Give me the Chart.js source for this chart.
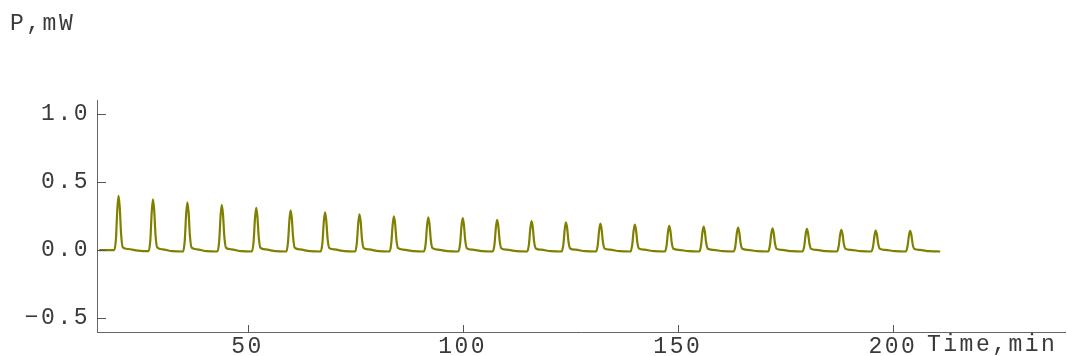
<!DOCTYPE html>
<html>
<head>
<meta charset="utf-8">
<script src="https://cdn.jsdelivr.net/npm/chart.js@4"></script>
<style>
  html, body { margin: 0; padding: 0; background: #fff; }
  #wrap { width: 1067px; height: 356px; }
</style>
</head>
<body>
<div id="wrap"><canvas id="powerChart"></canvas></div>
<script>
const timeMin = [
    15.5,
    19, 19.4, 19.72, 20, 20.28, 20.6, 21, 22.2, 24.5,
    27, 27.4, 27.72, 28, 28.28, 28.6, 29, 30.2, 32.5,
    35, 35.4, 35.72, 36, 36.28, 36.6, 37, 38.2, 40.5,
    43, 43.4, 43.72, 44, 44.28, 44.6, 45, 46.2, 48.5,
    51, 51.4, 51.72, 52, 52.28, 52.6, 53, 54.2, 56.5,
    59, 59.4, 59.72, 60, 60.28, 60.6, 61, 62.2, 64.5,
    67, 67.4, 67.72, 68, 68.28, 68.6, 69, 70.2, 72.5,
    75, 75.4, 75.72, 76, 76.28, 76.6, 77, 78.2, 80.5,
    83, 83.4, 83.72, 84, 84.28, 84.6, 85, 86.2, 88.5,
    91, 91.4, 91.72, 92, 92.28, 92.6, 93, 94.2, 96.5,
    99, 99.4, 99.72, 100, 100.28, 100.6, 101, 102.2, 104.5,
    107, 107.4, 107.72, 108, 108.28, 108.6, 109, 110.2, 112.5,
    115, 115.4, 115.72, 116, 116.28, 116.6, 117, 118.2, 120.5,
    123, 123.4, 123.72, 124, 124.28, 124.6, 125, 126.2, 128.5,
    131, 131.4, 131.72, 132, 132.28, 132.6, 133, 134.2, 136.5,
    139, 139.4, 139.72, 140, 140.28, 140.6, 141, 142.2, 144.5,
    147, 147.4, 147.72, 148, 148.28, 148.6, 149, 150.2, 152.5,
    155, 155.4, 155.72, 156, 156.28, 156.6, 157, 158.2, 160.5,
    163, 163.4, 163.72, 164, 164.28, 164.6, 165, 166.2, 168.5,
    171, 171.4, 171.72, 172, 172.28, 172.6, 173, 174.2, 176.5,
    179, 179.4, 179.72, 180, 180.28, 180.6, 181, 182.2, 184.5,
    187, 187.4, 187.72, 188, 188.28, 188.6, 189, 190.2, 192.5,
    195, 195.4, 195.72, 196, 196.28, 196.6, 197, 198.2, 200.5,
    203, 203.4, 203.72, 204, 204.28, 204.6, 205, 206.2, 208.5,
    211
];
const powerMw = [
    0.000,
    0.000, 0.080, 0.299, 0.398, 0.318, 0.119, 0.020, 0.008, -0.004,
    -0.008, 0.074, 0.279, 0.372, 0.298, 0.112, 0.019, 0.006, -0.008,
    -0.010, 0.070, 0.263, 0.350, 0.280, 0.105, 0.018, 0.006, -0.008,
    -0.010, 0.066, 0.248, 0.331, 0.265, 0.099, 0.017, 0.006, -0.008,
    -0.010, 0.062, 0.232, 0.309, 0.247, 0.093, 0.016, 0.005, -0.008,
    -0.010, 0.058, 0.219, 0.292, 0.234, 0.088, 0.016, 0.005, -0.008,
    -0.010, 0.055, 0.208, 0.277, 0.222, 0.083, 0.015, 0.005, -0.008,
    -0.010, 0.053, 0.197, 0.263, 0.210, 0.079, 0.015, 0.005, -0.008,
    -0.010, 0.050, 0.186, 0.248, 0.198, 0.074, 0.014, 0.004, -0.008,
    -0.010, 0.048, 0.181, 0.241, 0.193, 0.072, 0.014, 0.004, -0.008,
    -0.010, 0.047, 0.176, 0.234, 0.187, 0.070, 0.013, 0.004, -0.008,
    -0.010, 0.044, 0.166, 0.221, 0.177, 0.066, 0.013, 0.004, -0.008,
    -0.010, 0.042, 0.159, 0.212, 0.170, 0.064, 0.012, 0.003, -0.008,
    -0.010, 0.041, 0.153, 0.204, 0.163, 0.061, 0.012, 0.003, -0.008,
    -0.010, 0.039, 0.146, 0.194, 0.155, 0.058, 0.011, 0.003, -0.008,
    -0.010, 0.037, 0.140, 0.187, 0.150, 0.056, 0.011, 0.003, -0.008,
    -0.010, 0.035, 0.133, 0.177, 0.142, 0.053, 0.010, 0.002, -0.008,
    -0.010, 0.034, 0.129, 0.172, 0.138, 0.052, 0.010, 0.002, -0.008,
    -0.010, 0.033, 0.124, 0.165, 0.132, 0.050, 0.010, 0.002, -0.008,
    -0.010, 0.032, 0.120, 0.160, 0.128, 0.048, 0.009, 0.002, -0.008,
    -0.010, 0.031, 0.116, 0.155, 0.124, 0.047, 0.009, 0.002, -0.008,
    -0.010, 0.030, 0.111, 0.148, 0.118, 0.044, 0.009, 0.002, -0.008,
    -0.010, 0.029, 0.107, 0.143, 0.114, 0.043, 0.009, 0.002, -0.008,
    -0.010, 0.028, 0.106, 0.141, 0.113, 0.042, 0.008, 0.002, -0.008,
    -0.010
];
const xTicks = [50, 100, 150, 200];
const yTicks = [-0.5, 0, 0.5, 1.0];
const xLabel = 'Time,min';
const yLabel = 'P,mW';

const FONT = { family: '"Liberation Mono", "DejaVu Sans Mono", monospace', size: 23 };
const TEXT = '#3a3a3a';
const AXIS = '#666';

// Mathematica-style: wide letter spacing, ticks pointing into the plot
const spacing = {
    id: 'spacing',
    beforeDraw(chart) { chart.ctx.letterSpacing = '2.5px'; }
};

const extras = {
    id: 'extras',
    afterDraw(chart) {
        const ctx = chart.ctx;
        const x = chart.scales.x, y = chart.scales.y;
        const area = chart.chartArea;
        ctx.save();
        ctx.fillStyle = '#555';
        yTicks.forEach(v => {
            const py = Math.round(y.getPixelForValue(v));
            ctx.fillRect(area.left, py, 9, 1);
        });
        xTicks.forEach(v => {
            const px = Math.round(x.getPixelForValue(v));
            ctx.fillRect(px, area.bottom - 7, 1, 7);
        });

        ctx.letterSpacing = '2.5px';
        ctx.fillStyle = TEXT;
        ctx.font = FONT.size + 'px ' + FONT.family;
        ctx.textBaseline = 'middle';
        ctx.textAlign = 'left';
        ctx.fillText(yLabel, 10, 24);
        ctx.fillText(xLabel, 927, 345);
        ctx.restore();
    }
};

new Chart(document.getElementById('powerChart'), {
    type: 'line',
    data: {
        datasets: [{
            data: timeMin.map((t, i) => ({ x: t, y: powerMw[i] })),
            borderColor: '#808000',
            borderWidth: 2.2,
            pointRadius: 0,
            cubicInterpolationMode: 'monotone',
            fill: false
        }]
    },
    options: {
        responsive: true,
        maintainAspectRatio: false,
        animation: false,
        layout: { padding: { top: 100, right: 2, left: 0, bottom: 0 } },
        plugins: { legend: { display: false }, tooltip: { enabled: false } },
        scales: {
            x: {
                type: 'linear',
                min: 15,
                max: 240,
                afterBuildTicks: s => { s.ticks = xTicks.map(v => ({ value: v })); },
                afterFit: s => { s.height = 24; },
                grid: { display: false, drawTicks: false },
                border: { color: AXIS, width: 1 },
                ticks: { color: TEXT, font: FONT, padding: 1, maxRotation: 0, autoSkip: false }
            },
            y: {
                min: -0.6,
                max: 1.1,
                afterBuildTicks: s => { s.ticks = yTicks.map(v => ({ value: v })); },
                afterFit: s => { s.width = 97; },
                grid: { display: false, drawTicks: false },
                border: { color: AXIS, width: 1 },
                ticks: {
                    color: TEXT, font: FONT, padding: 7, autoSkip: false,
                    callback: v => v.toFixed(1).replace('-', '\u2212')
                }
            }
        }
    },
    plugins: [spacing, extras]
});
</script>
</body>
</html>
